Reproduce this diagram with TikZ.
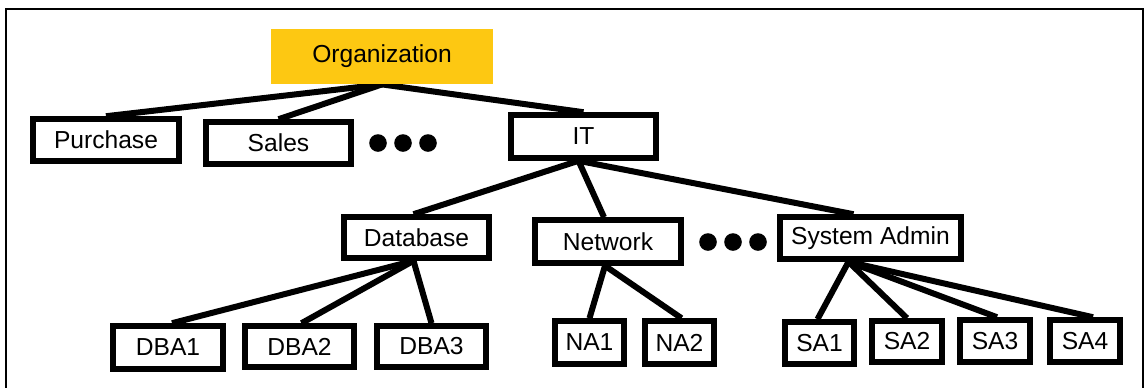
\documentclass[tikz,border=0pt]{standalone}
\usepackage{fontspec}
\setmainfont{Liberation Sans}
\usetikzlibrary{calc,backgrounds}
\definecolor{orgyellow}{RGB}{253,200,18}
\begin{document}
\begin{tikzpicture}[x=0.5pt,y=-0.5pt,
  txt/.style={font=\fontsize{12.3}{14}\selectfont,inner sep=0pt},
  sz/.style 2 args={minimum width={#1*0.5pt},minimum height={#2*0.5pt}},
  box/.style={txt,draw=black,line width=2.8pt,fill=white},
  rootbox/.style={txt,fill=orgyellow},
  link/.style={line width=3pt,draw=black},
  frame/.style={line width=1.1pt,draw=black},
  dot/.style={fill=black}]
\useasboundingbox (0,0) rectangle (1147,387);
\draw[frame] (6,395) -- (6,9) -- (1143,9) -- (1143,395);

% nodes
\node[rootbox,sz={222}{55}] (org) at (382,56.5) {Organization};
\node[box,sz={146}{42}] (pur) at (106,140) {Purchase};
\node[box,sz={145}{42}] (sal) at (278.5,143) {Sales};
\node[box,sz={145}{43}] (it) at (583.5,136.5) {IT};
\node[box,sz={145}{41}] (db) at (416.5,237.5) {Database};
\node[box,sz={146}{43}] (net) at (608,241.5) {Network};
\node[box,sz={181}{42}] (sa) at (870.5,238) {System Admin};
\node[box,sz={110}{43}] (dba1) at (168,347.5) {DBA1};
\node[box,sz={109}{41}] (dba2) at (299.5,346.5) {DBA2};
\node[box,sz={109}{41}] (dba3) at (431.5,346.5) {DBA3};
\node[box,sz={69}{43}] (na1) at (589.5,342.5) {NA1};
\node[box,sz={69}{43}] (na2) at (679.5,342.5) {NA2};
\node[box,sz={69}{42}] (sa1) at (819.5,343) {SA1};
\node[box,sz={70}{41}] (sa2) at (907,341.5) {SA2};
\node[box,sz={70}{42}] (sa3) at (995,341) {SA3};
\node[box,sz={70}{42}] (sa4) at (1085,341) {SA4};

% ellipsis dots
\fill[dot] (378,143) circle (4.4pt);
\fill[dot] (403,143) circle (4.4pt);
\fill[dot] (428,143) circle (4.4pt);
\fill[dot] (708,242) circle (4.4pt);
\fill[dot] (733,242) circle (4.4pt);
\fill[dot] (758,242) circle (4.4pt);

% connectors
\begin{scope}[on background layer]
\coordinate (orgb) at (org.south);
\draw[link] (orgb) -- (pur.north);
\draw[link] (orgb) -- (sal.north);
\draw[link] (orgb) -- (it.north);
\coordinate (itb) at ($(it.south)+(-5,0)$);
\draw[link] (itb) -- ($(db.north)+(-3,0)$);
\draw[link] (itb) -- ($(net.north)+(-4,0)$);
\draw[link] (itb) -- ($(sa.north)+(-17,0)$);
\coordinate (dbb) at ($(db.south)+(-3,0)$);
\draw[link] (dbb) -- ($(dba1.north)+(4,0)$);
\draw[link] (dbb) -- ($(dba2.north)+(2,0)$);
\draw[link] (dbb) -- (dba3.north);
\coordinate (netb) at ($(net.south)+(-3,0)$);
\draw[link] (netb) -- (na1.north);
\draw[link] (netb) -- ($(na2.north)+(2,0)$);
\coordinate (sab) at ($(sa.south)+(-22,0)$);
\draw[link] (sab) -- ($(sa1.north)+(-2,0)$);
\draw[link] (sab) -- (sa2.north);
\draw[link] (sab) -- ($(sa3.north)+(2,0)$);
\draw[link] (sab) -- ($(sa4.north)+(8,0)$);
\end{scope}
\end{tikzpicture}
\end{document}
